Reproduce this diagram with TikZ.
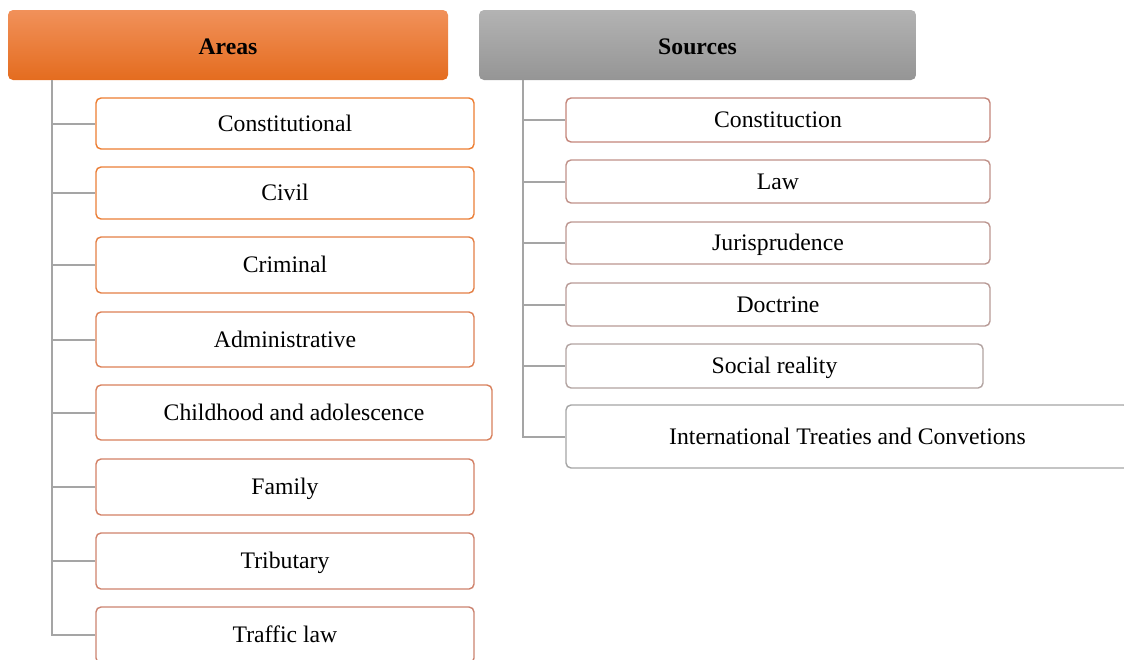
\documentclass[tikz,border=0pt]{standalone}
\usepackage{fontspec}
\setmainfont{Liberation Serif}
\definecolor{linegray}{HTML}{A5A5A5}
\definecolor{oratop}{HTML}{F1915A}
\definecolor{oramid}{HTML}{F17A2B}
\definecolor{orabot}{HTML}{E46C1F}
\definecolor{grytop}{HTML}{B3B3B3}
\definecolor{grybot}{HTML}{959595}
\definecolor{ca1}{HTML}{ED7D31}
\definecolor{ca2}{HTML}{EB7E37}
\definecolor{ca3}{HTML}{E47F45}
\definecolor{ca4}{HTML}{DD8055}
\definecolor{ca5}{HTML}{D8805C}
\definecolor{ca6}{HTML}{D38065}
\definecolor{ca7}{HTML}{CF826C}
\definecolor{ca8}{HTML}{CB8370}
\definecolor{cs1}{HTML}{C4857A}
\definecolor{cs2}{HTML}{C09189}
\definecolor{cs3}{HTML}{BC9690}
\definecolor{cs4}{HTML}{B89A96}
\definecolor{cs5}{HTML}{B2A3A1}
\definecolor{cs6}{HTML}{A5A5A5}
\begin{document}
\begin{tikzpicture}[x=1pt,y=-1pt,
	item/.style={draw,fill=white,rounded corners=5pt,line width=1.4pt,inner sep=0pt,text height=18pt,text depth=3pt,font=\fontsize{23.7}{28}\selectfont},
	head/.style={rounded corners=5pt,inner sep=0pt,minimum height=70pt,text height=20pt,text depth=2pt,font=\fontsize{23.7}{28}\selectfont\bfseries},
	conn/.style={draw=linegray,line width=2pt}]
	\useasboundingbox (0,0) rectangle (1124,659);

	% headers
	\node[head,top color=oratop,middle color=oramid,bottom color=orabot,minimum width=440pt] (areas) at (228,45) {Areas};
	\node[head,top color=grytop,bottom color=grybot,minimum width=437pt] (sources) at (697.5,45) {Sources};
	\coordinate (atop) at (52,80);
	\coordinate (stop) at (523,80);

	% areas
	\node[item,draw=ca1,minimum width=378pt,minimum height=51pt] (const) at (285,123.5) {Constitutional};
	\node[item,draw=ca2,minimum width=378pt,minimum height=52pt] (civil) at (285,193) {Civil};
	\node[item,draw=ca3,minimum width=378pt,minimum height=56pt] (crim) at (285,265) {Criminal};
	\node[item,draw=ca4,minimum width=378pt,minimum height=55pt] (admin) at (285,339.5) {Administrative};
	\node[item,draw=ca5,minimum width=396pt,minimum height=55pt] (child) at (294,412.5) {Childhood and adolescence};
	\node[item,draw=ca6,minimum width=378pt,minimum height=56pt] (fam) at (285,487) {Family};
	\node[item,draw=ca7,minimum width=378pt,minimum height=56pt] (trib) at (285,561) {Tributary};
	\node[item,draw=ca8,minimum width=378pt,minimum height=56pt] (traf) at (285,635) {Traffic law};

	% sources
	\node[item,draw=cs1,minimum width=424pt,minimum height=44pt] (constn) at (778,120) {Constituction};
	\node[item,draw=cs2,minimum width=424pt,minimum height=43pt] (law) at (778,181.5) {Law};
	\node[item,draw=cs3,minimum width=424pt,minimum height=42pt] (juris) at (778,243) {Jurisprudence};
	\node[item,draw=cs4,minimum width=424pt,minimum height=43pt] (doct) at (778,304.5) {Doctrine};
	\node[item,draw=cs5,minimum width=417pt,minimum height=44pt] (soc) at (774.5,366) {Social reality};
	\node[item,draw=cs6,minimum width=563pt,minimum height=63pt] (intl) at (847.5,436.5) {International Treaties and Convetions};

	% connectors
	\draw[conn] (atop) |- (traf.west);
	\foreach \n in {const,civil,crim,admin,child,fam,trib}
		\draw[conn] (atop |- \n.west) -- (\n.west);
	\draw[conn] (stop) |- (intl.west);
	\foreach \n in {constn,law,juris,doct,soc}
		\draw[conn] (stop |- \n.west) -- (\n.west);
\end{tikzpicture}
\end{document}
